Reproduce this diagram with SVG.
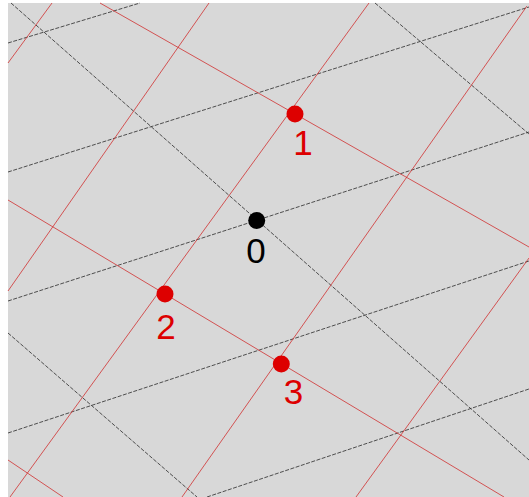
<svg xmlns="http://www.w3.org/2000/svg" width="529" height="497" viewBox="0 0 529 497">
<style>
.bl{stroke:#2a2a2a;stroke-width:0.8;fill:none;stroke-dasharray:4 1.5}
.rl{stroke:#d03030;stroke-width:0.8;fill:none}
.rd{fill:#dd0000}
.bd{fill:#000}
.rt{font-family:"Liberation Sans",Arial,sans-serif;font-size:35px;fill:#dd0000;text-anchor:middle}
.bt{font-family:"Liberation Sans",Arial,sans-serif;font-size:35px;fill:#000;text-anchor:middle}
</style>
<rect x="0" y="0" width="529" height="497" fill="#fff"/>
<rect x="8" y="3" width="521" height="494" fill="#d8d8d8"/>
<g id="connectors">
<g id="black-lines">
<line class="bl" x1="8" y1="43" x2="140" y2="3"/>
<line class="bl" x1="8" y1="172" x2="529" y2="7"/>
<line class="bl" x1="8" y1="301" x2="529" y2="132"/>
<line class="bl" x1="8" y1="433" x2="529" y2="261"/>
<line class="bl" x1="207" y1="497" x2="529" y2="389"/>
<line class="bl" x1="11" y1="3" x2="529" y2="460"/>
<line class="bl" x1="375" y1="3" x2="529" y2="134"/>
<line class="bl" x1="8" y1="333" x2="197" y2="497"/>
</g>
<g id="red-lines">
<line class="rl" x1="100" y1="3" x2="529" y2="247"/>
<line class="rl" x1="8" y1="200" x2="504" y2="497"/>
<line class="rl" x1="8" y1="460" x2="63" y2="497"/>
<line class="rl" x1="52" y1="3" x2="8" y2="63"/>
<line class="rl" x1="209" y1="3" x2="8" y2="291"/>
<line class="rl" x1="369" y1="3" x2="10" y2="497"/>
<line class="rl" x1="527" y1="6" x2="182" y2="497"/>
<line class="rl" x1="529" y1="258" x2="356" y2="497"/>
</g>
</g>
<g id="node-0"><circle class="bd" cx="256.7" cy="220.5" r="8.5"/><text class="bt" x="256" y="262.5">0</text></g>
<g id="node-1"><circle class="rd" cx="295" cy="114" r="8.5"/><text class="rt" x="303" y="155">1</text></g>
<g id="node-2"><circle class="rd" cx="165" cy="294" r="8.5"/><text class="rt" x="166" y="339">2</text></g>
<g id="node-3"><circle class="rd" cx="281.3" cy="364" r="8.5"/><text class="rt" x="293.5" y="404">3</text></g>
</svg>
